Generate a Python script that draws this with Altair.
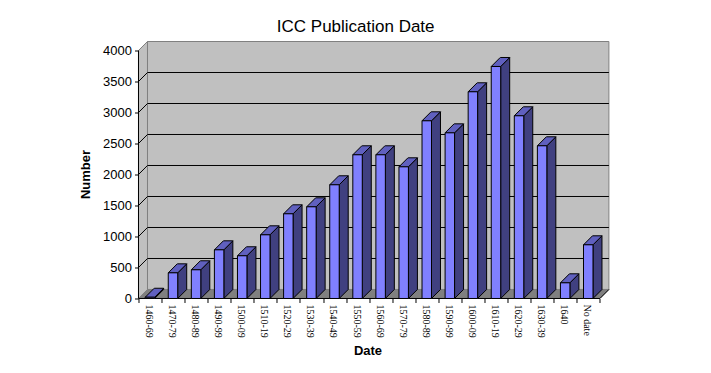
import altair as alt
import pandas as pd

categories = ["1460-69", "1470-79", "1480-89", "1490-99", "1500-09", "1510-19", "1520-29",
              "1530-39", "1540-49", "1550-59", "1560-69", "1570-79", "1580-89", "1590-99",
              "1600-09", "1610-19", "1620-29", "1630-39", "1640", "No date"]
values = [20, 414, 463, 785, 689, 1027, 1366, 1479, 1834, 2318, 2318, 2124, 2866, 2672,
          3334, 3742, 2947, 2463, 253, 866]
grid_values = [500, 1000, 1500, 2000, 2500, 3000, 3500]
y_ticks = [0, 500, 1000, 1500, 2000, 2500, 3000, 3500, 4000]

n = len(categories)
DX = 0.39     # 3-D depth in category units
DY = 145.2    # 3-D depth in value units
BL = 0.29     # bar inset in its category
BW = 0.41     # bar width in category units
YMAX = 4000

xs = alt.Scale(domain=[0, n + DX], nice=False, zero=False)
ys = alt.Scale(domain=[0, YMAX + DY], nice=False, zero=False)
W, H = 470.4, 257

x_axis = alt.Axis(
    values=list(range(n + 1)), title="Date", titleFont="Liberation Sans", titleFontSize=13, titleFontWeight="bold",
    titleColor="#000000", titleX=229, titleY=52, titleAlign="center", titleBaseline="middle",
    labels=False, tickColor="#000000", tickSize=4, domain=False, grid=False)
y_axis = alt.Axis(
    values=y_ticks, format="d", title="Number", titleFont="Liberation Sans", titleFontSize=13, titleFontWeight="bold",
    titleColor="#000000", titleX=-46, titleY=132.5, titleAngle=270, titleAlign="center",
    labelFont="Liberation Sans", labelFontSize=13, labelColor="#000000", labelPadding=3,
    tickColor="#000000", tickSize=4, domain=False, grid=False, labelFlush=False, labelOverlap=False)


def area(rows, fill, stroke, sw=1.0):
    df = pd.DataFrame(rows, columns=["g", "x", "y", "y2"])
    return alt.Chart(df).mark_area(fill=fill, stroke=stroke, strokeWidth=sw, interpolate="linear",
                                   orient="vertical").encode(
        x=alt.X("x:Q", scale=xs, axis=x_axis),
        y=alt.Y("y:Q", scale=ys, axis=y_axis, stack=None),
        y2="y2:Q",
        detail="g:N",
    )


def lines(rows, color, sw=1.0):
    df = pd.DataFrame(rows, columns=["g", "o", "x", "y"])
    return alt.Chart(df).mark_line(color=color, strokeWidth=sw).encode(
        x=alt.X("x:Q", scale=xs, axis=x_axis),
        y=alt.Y("y:Q", scale=ys, axis=y_axis),
        detail="g:N",
        order="o:Q",
    )


back = area([(0, DX, YMAX + DY, DY), (0, n + DX, YMAX + DY, DY)], "#C0C0C0", "#808080")
side = area([(0, 0, YMAX, 0), (0, DX, YMAX + DY, DY)], "#C0C0C0", "#808080")
floor = area([(0, 0, 0, 0), (0, DX, DY, 0), (0, n, DY, 0), (0, n + DX, DY, DY)], "#808080", "#808080")

grid_rows = []
for v in grid_values:
    grid_rows += [(v, 0, 0, v), (v, 1, DX, v + DY), (v, 2, n + DX, v + DY)]
grid = lines(grid_rows, "#000000")

corner = lines([(0, 0, n, 0), (0, 1, n + DX, DY)], "#000000")

front_rows, side_rows, top_rows = [], [], []
for i, v in enumerate(values):
    l, r = i + BL, i + BL + BW
    front_rows += [(i, l, v, 0), (i, r, v, 0)]
    side_rows += [(i, r, v, 0), (i, r + DX, v + DY, DY)]
    top_rows += [(i, l, v, v), (i, l + DX, v + DY, v), (i, r, v + DY, v), (i, r + DX, v + DY, v + DY)]
bar_front = area(front_rows, "#8080FF", "#000000")
bar_side = area(side_rows, "#404080", "#000000")
bar_top = area(top_rows, "#6060BF", "#000000")

y_line = lines([(0, 0, 0, 0), (0, 1, 0, YMAX)], "#000000")
x_line = lines([(0, 0, 0, 0), (0, 1, n, 0)], "#000000")

labels_df = pd.DataFrame({"c": categories, "x": [i + 0.45 for i in range(n)], "y": [0] * n})
x_labels = alt.Chart(labels_df).mark_text(
    angle=90, align="left", baseline="middle", dx=6, font="Liberation Serif", fontSize=10, color="#000000"
).encode(
    x=alt.X("x:Q", scale=xs, axis=x_axis),
    y=alt.Y("y:Q", scale=ys, axis=y_axis),
    text="c:N",
)

chart = alt.layer(
    back, side, floor, grid, corner, y_line, x_line,
    bar_side, bar_top, bar_front, x_labels,
).resolve_scale(x="shared", y="shared").properties(
    width=W, height=H,
    title=alt.TitleParams("ICC Publication Date", font="Liberation Sans", fontSize=17, fontWeight="normal",
                          color="#000000", anchor="middle", dx=-18, offset=4),
    autosize=alt.AutoSizeParams(type="none"),
    padding={"left": 130.5, "top": 33.5, "right": 90, "bottom": 65},
    background="#FFFFFF",
).configure_view(stroke=None)

chart.save("out.html", embed_options={"renderer": "svg", "actions": False})
